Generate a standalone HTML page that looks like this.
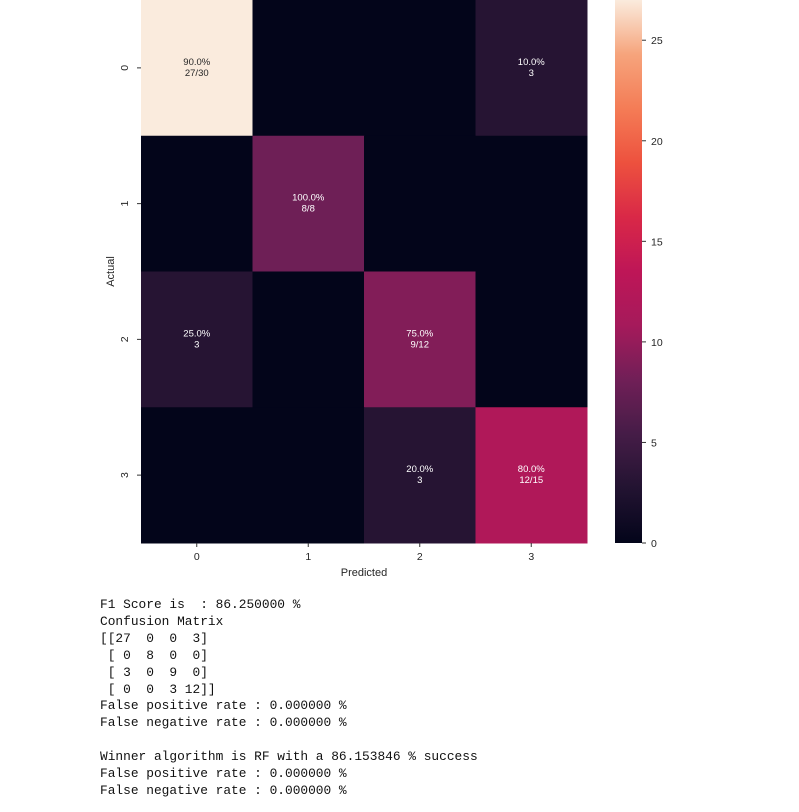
<!DOCTYPE html>
<html><head><meta charset="utf-8"><style>
body{margin:0;background:#fff;width:799px;height:812px;overflow:hidden;position:relative;font-family:"Liberation Sans",sans-serif}
#out{position:absolute;left:100px;top:597px;margin:0;font-family:"Liberation Mono","DejaVu Sans Mono",monospace;font-size:12.85px;line-height:16.9px;color:#111;white-space:pre}
</style></head><body>
<svg id="chart" width="799" height="590" style="position:absolute;left:0;top:0">
<defs><linearGradient id="cbg" x1="0" y1="1" x2="0" y2="0"></linearGradient></defs>
<g id="cells"></g><g id="axes"></g>
</svg>
<pre id="out">F1 Score is  : 86.250000 %
Confusion Matrix
[[27  0  0  3]
 [ 0  8  0  0]
 [ 3  0  9  0]
 [ 0  0  3 12]]
False positive rate : 0.000000 %
False negative rate : 0.000000 %

Winner algorithm is RF with a 86.153846 % success
False positive rate : 0.000000 %
False negative rate : 0.000000 %</pre>
<script>
const categories=["0","1","2","3"];
const matrix=[[27,0,0,3],[0,8,0,0],[3,0,9,0],[0,0,3,12]];
const cbTicks=[0,5,10,15,20,25];
const vmax=27;
const stops=["#03051A","#221331","#451C47","#701F57","#A51A5B","#BE1657","#D92847","#ED513E","#F47C56","#F6A47C","#FAEBDD"];
const NS="http://www.w3.org/2000/svg";
const X0=141,X1=587,Y0=0,Y1=543,CB0=615,CB1=642;
const cw=(X1-X0)/categories.length,ch=(Y1-Y0)/categories.length;
function xs(i){return X0+i*cw;} function ys(i){return Y0+i*ch;}
function cbY(v){return Y1-(v/vmax)*(Y1-Y0);}
function hex(h){return [1,3,5].map(k=>parseInt(h.substr(k,2),16));}
function cmap(t){t=Math.max(0,Math.min(1,t));const p=t*(stops.length-1),i=Math.min(Math.floor(p),stops.length-2),f=p-i;const a=hex(stops[i]),b=hex(stops[i+1]);return "rgb("+a.map((v,k)=>Math.round(v+(b[k]-v)*f)).join(",")+")";}
function mk(tag,attrs,parent,text){const e=document.createElementNS(NS,tag);for(const k in attrs)e.setAttribute(k,attrs[k]);if(text!==undefined)e.textContent=text;parent.appendChild(e);return e;}
const cells=document.getElementById("cells"),axes=document.getElementById("axes");
matrix.forEach((row,r)=>{const tot=row.reduce((a,b)=>a+b,0);row.forEach((v,c)=>{
 const rect=mk("rect",{x:xs(c),y:ys(r),width:cw+0.5,height:ch+0.5,fill:cmap(v/vmax)},cells);
 
 
 if(v>0){const col=v/vmax>0.6?"#262626":"#fff";const cx=xs(c)+cw/2,cy=ys(r)+ch/2;
  const t1=mk("text",{x:cx,y:cy-3,"text-anchor":"middle","font-size":"9.5",fill:col},cells,(v/tot*100).toFixed(1)+"%");
  
  
  const t2=mk("text",{x:cx,y:cy+8,"text-anchor":"middle","font-size":"9.5",fill:col},cells,r===c?v+"/"+tot:String(v));
  
  }
});});
categories.forEach((c,i)=>{const cx=xs(i)+cw/2;
 mk("line",{x1:cx,y1:Y1,x2:cx,y2:Y1+4,stroke:"#333"},axes);
 const t=mk("text",{x:cx,y:Y1+17,"text-anchor":"middle","font-size":"10.5",fill:"#262626"},axes,c);
 
 
 const cy=ys(i)+ch/2;
 mk("line",{x1:X0-4,y1:cy,x2:X0,y2:cy,stroke:"#333"},axes);
 const u=mk("text",{x:0,y:0,"text-anchor":"middle","font-size":"10.5",fill:"#262626",transform:"translate(128,"+cy+") rotate(-90)"},axes,c);
 
 
});
const xl=mk("text",{x:(X0+X1)/2,y:Y1+33,"text-anchor":"middle","font-size":"11",fill:"#262626"},axes,"Predicted");


const yl=mk("text",{x:0,y:0,"text-anchor":"middle","font-size":"11",fill:"#262626",transform:"translate(114,"+(Y1/2)+") rotate(-90)"},axes,"Actual");


const g=document.getElementById("cbg");
for(let i=0;i<=20;i++)mk("stop",{offset:(i/20),"stop-color":cmap(i/20)},g);
const cb=mk("rect",{x:CB0,y:Y0,width:CB1-CB0,height:Y1-Y0,fill:"url(#cbg)"},axes);


cbTicks.forEach(v=>{const y=cbY(v);
 mk("line",{x1:CB1,y1:y,x2:CB1+4,y2:y,stroke:"#333"},axes);
 const t=mk("text",{x:CB1+9,y:y+4,"font-size":"10.5",fill:"#262626"},axes,String(v));
 
 
});
</script>
</body></html>
